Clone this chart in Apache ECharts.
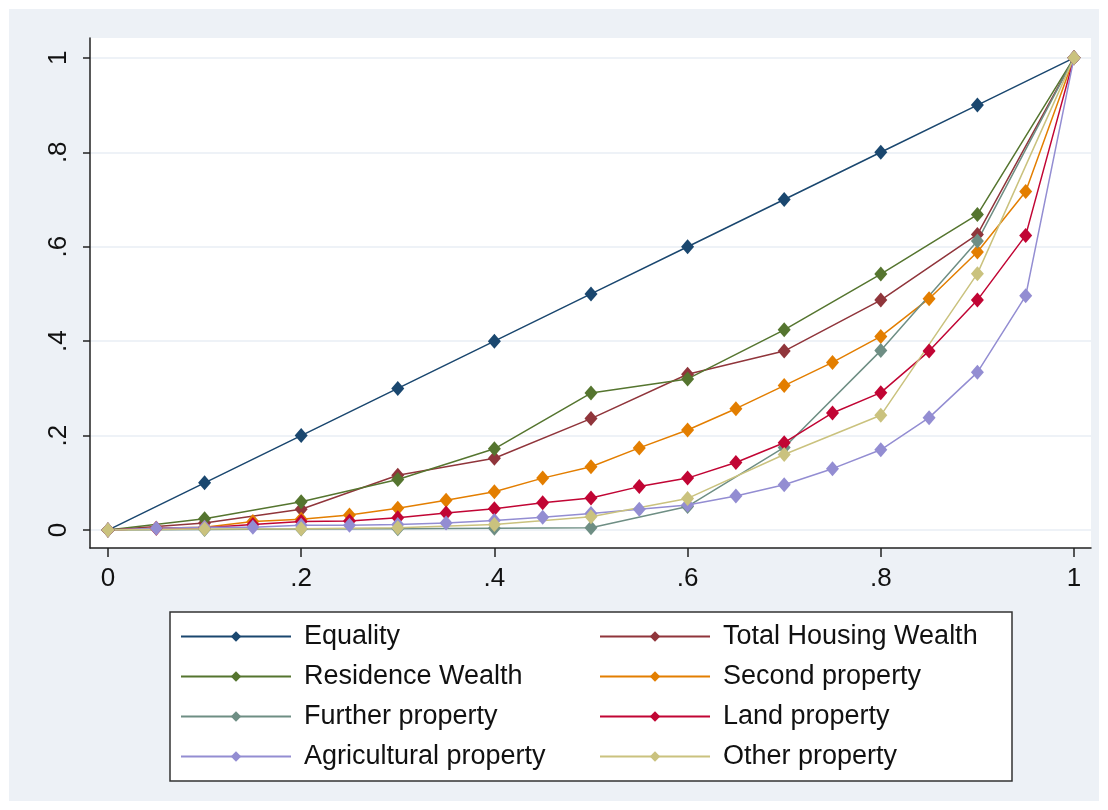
<!DOCTYPE html>
<html>
<head>
<meta charset="utf-8">
<script src="https://cdn.jsdelivr.net/npm/echarts@6/dist/echarts.min.js"></script>
<style>
  html, body { margin: 0; padding: 0; background: #fff; }
  #chart { width: 1108px; height: 810px; }
</style>
</head>
<body>
<div id="chart"></div>
<script>
// population shares (x) - deciles and 5% steps
var deciles = [0, 0.1, 0.2, 0.3, 0.4, 0.5, 0.6, 0.7, 0.8, 0.9, 1];
var steps5 = [0, 0.05, 0.1, 0.15, 0.2, 0.25, 0.3, 0.35, 0.4, 0.45, 0.5,
              0.55, 0.6, 0.65, 0.7, 0.75, 0.8, 0.85, 0.9, 0.95, 1];

// cumulative wealth shares (y)
var equality    = [0, 0.1, 0.2, 0.3, 0.4, 0.5, 0.6, 0.7, 0.8, 0.9, 1];
var totalHousing = [0, 0.015, 0.044, 0.116, 0.152, 0.236, 0.33, 0.379, 0.487, 0.626, 1];
var residence   = [0, 0.024, 0.06, 0.107, 0.172, 0.29, 0.32, 0.424, 0.542, 0.668, 1];
var second      = [0, 0.004, 0.006, 0.018, 0.023, 0.032, 0.046, 0.063, 0.081, 0.11, 0.134,
                   0.174, 0.212, 0.257, 0.306, 0.355, 0.41, 0.49, 0.589, 0.717, 1];
var further     = [0, 0.001, 0.002, 0.003, 0.004, 0.005, 0.05, 0.175, 0.38, 0.612, 1];
var land        = [0, 0.004, 0.005, 0.012, 0.018, 0.019, 0.026, 0.036, 0.045, 0.058, 0.068,
                   0.092, 0.11, 0.143, 0.185, 0.248, 0.291, 0.379, 0.487, 0.624, 1];
var agricultural = [0, 0.004, 0.006, 0.006, 0.01, 0.01, 0.012, 0.015, 0.02, 0.027, 0.035,
                    0.044, 0.053, 0.072, 0.096, 0.13, 0.17, 0.238, 0.334, 0.496, 1];
var other       = [0, 0.002, 0.003, 0.005, 0.012, 0.028, 0.067, 0.16, 0.243, 0.543, 1];

var tickVals = [0, 0.2, 0.4, 0.6, 0.8, 1];

function pairs(xs, ys) {
    return xs.map(function (x, i) { return [x, ys[i]]; });
}
function fmt(v) {
    var s = String(Math.round(v * 10) / 10);
    return s.replace(/^0\./, '.');
}

var seriesDefs = [
    { name: 'Equality', x: deciles, y: equality, color: '#1a476f' },
    { name: 'Total Housing Wealth', x: deciles, y: totalHousing, color: '#90353b' },
    { name: 'Residence Wealth', x: deciles, y: residence, color: '#55752f' },
    { name: 'Second property', x: steps5, y: second, color: '#e37e00' },
    { name: 'Further property', x: deciles, y: further, color: '#6e8e84' },
    { name: 'Land property', x: steps5, y: land, color: '#c10534' },
    { name: 'Agricultural property', x: steps5, y: agricultural, color: '#938dd2' },
    { name: 'Other property', x: deciles, y: other, color: '#cac27e' }
];

var chart = echarts.init(document.getElementById('chart'));
chart.setOption({
    animation: false,
    backgroundColor: '#fff',
    textStyle: { fontFamily: 'Liberation Sans, Arial, sans-serif' },
    graphic: [{
        type: 'rect',
        z: -10,
        shape: { x: 9, y: 9, width: 1090, height: 792 },
        style: { fill: '#edf1f6' }
    }],
    grid: {
        left: 90, top: 38, width: 1001, height: 510,
        show: true, backgroundColor: '#fff', borderWidth: 0
    },
    xAxis: {
        type: 'value',
        min: -0.0186, max: 1.0176,
        axisLine: { show: true, onZero: false, lineStyle: { color: '#222', width: 1.5 } },
        axisTick: { show: true, length: 9, customValues: tickVals, lineStyle: { color: '#222', width: 1.5 } },
        axisLabel: { customValues: tickVals, formatter: fmt, fontSize: 26, color: '#111', margin: 18 },
        splitLine: { show: false }
    },
    yAxis: {
        type: 'value',
        min: -0.038, max: 1.042,
        axisLine: { show: true, onZero: false, lineStyle: { color: '#222', width: 1.5 } },
        axisTick: { show: true, length: 7, customValues: tickVals, lineStyle: { color: '#222', width: 1.5 } },
        axisLabel: { customValues: tickVals, formatter: fmt, fontSize: 26, color: '#111', rotate: 90, margin: 18 },
        splitLine: { show: true, lineStyle: { color: '#e9eef4', width: 1.5 } }
    },
    legend: {
        left: 170, top: 612,
        width: 840,
        padding: [11, 7, 11, 10],
        backgroundColor: '#fff',
        borderColor: '#333',
        borderWidth: 1.5,
        borderRadius: 0,
        itemWidth: 110,
        itemHeight: 13,
        itemGap: 13,
        textStyle: { fontSize: 27, color: '#111', width: 282, lineHeight: 27, padding: [0, 0, 0, 8] },
        data: seriesDefs.map(function (s) { return s.name; })
    },
    series: seriesDefs.map(function (s) {
        return {
            name: s.name,
            type: 'line',
            data: pairs(s.x, s.y),
            symbol: 'diamond',
            symbolSize: [13, 15],
            color: s.color,
            lineStyle: { color: s.color, width: 1.5 },
            itemStyle: { color: s.color }
        };
    })
});
</script>
</body>
</html>
